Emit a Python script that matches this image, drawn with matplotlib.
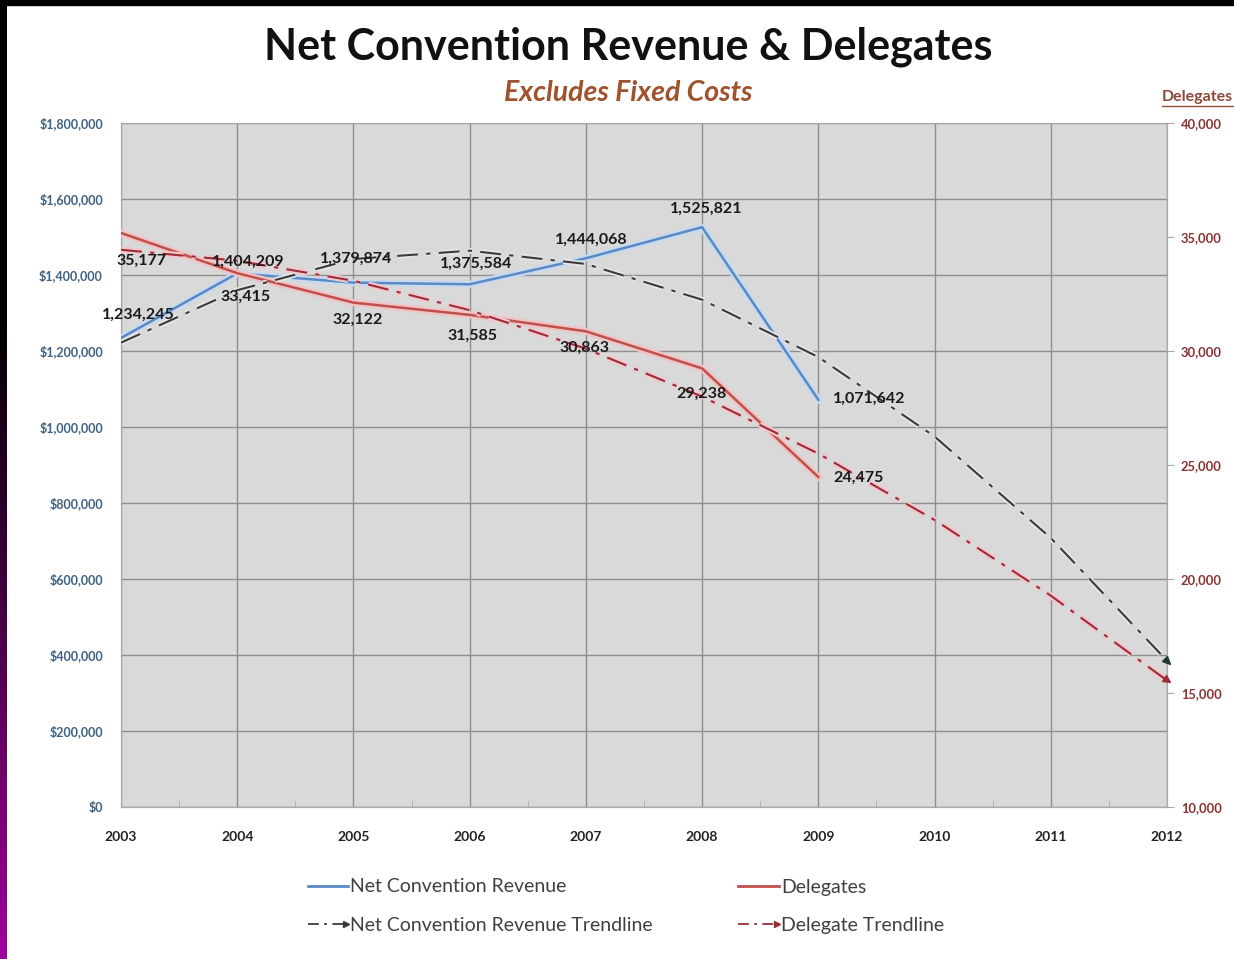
import matplotlib
matplotlib.use("Agg")
import matplotlib.pyplot as plt
import matplotlib.patheffects as pe
from matplotlib.lines import Line2D
from matplotlib.markers import MarkerStyle
from matplotlib.transforms import Affine2D
from matplotlib.legend_handler import HandlerLine2D
from matplotlib.colors import LinearSegmentedColormap
import numpy as np

# ---------------- data ----------------
years = [2003, 2004, 2005, 2006, 2007, 2008, 2009]
revenue = [1234245, 1404209, 1379874, 1375584, 1444068, 1525821, 1071642]
delegates = [35177, 33415, 32122, 31585, 30863, 29238, 24475]

trend_years = [2003, 2004, 2005, 2006, 2007, 2008, 2009, 2010, 2011, 2012]
revenue_trend = [1222000, 1360000, 1442000, 1464000, 1429000, 1335000, 1184000, 975000, 708000, 385000]
delegate_trend = [34440, 33960, 33080, 31790, 30100, 28000, 25500, 22590, 19270, 15550]

left_ticks = [0, 200000, 400000, 600000, 800000, 1000000, 1200000, 1400000, 1600000, 1800000]
right_ticks = [10000, 15000, 20000, 25000, 30000, 35000, 40000]
x_ticks = trend_years

# label offsets (pixels) for data labels
rev_offsets = [(17, 23), (11, 12), (3, 24), (6, 20), (5, 18), (4, 18), (51, 1)]
del_offsets = [(20, -28), (8, -24), (4, -17), (3, -21), (-1, -16), (-1, -25), (40, -1)]

# ---------------- style ----------------
FONT = ["Lato", "DejaVu Sans"]
plt.rcParams["font.family"] = FONT

BLUE = "#5A8AC6"
RED = "#C0504D"
TREND_GREY = "#3A3A3A"
TREND_RED = "#9B2D3A"
PLOT_BG = "#D9D9D9"
GRID = "#8E8E8E"

W, H = 1234, 959
fig = plt.figure(figsize=(W / 100, H / 100), dpi=100)
fig.patch.set_facecolor("white")

# plot area in pixels
L, R, T, B = 121, 1167, 123, 807
ax = fig.add_axes([L / W, 1 - B / H, (R - L) / W, (B - T) / H])
ax.set_facecolor(PLOT_BG)
ax.set_xlim(2003, 2012)
ax.set_ylim(0, 1800000)
ax2 = ax.twinx()
ax2.set_ylim(10000, 40000)

# grid
ax.set_xticks(x_ticks)
ax.set_yticks(left_ticks)
ax.grid(True, color=GRID, linewidth=1.0)
ax.set_axisbelow(True)
ax.set_xticks(np.arange(2003.5, 2012, 1.0), minor=True)
ax.tick_params(axis="x", which="minor", direction="in", length=4, color="#A8A8A8")

for sp in ["top", "right", "left", "bottom"]:
    ax.spines[sp].set_color("#A8A8A8")
    ax2.spines[sp].set_color("#A8A8A8")

ax.tick_params(axis="y", length=0, pad=13, labelsize=9.0, labelcolor="#3F6182")
ax.tick_params(axis="x", which="major", length=0, pad=17, labelsize=10, labelcolor="#222222")
ax.set_yticklabels([f"${v:,.0f}" for v in left_ticks], fontweight="bold")
ax.set_xticklabels([str(y) for y in x_ticks], fontweight="bold")

ax2.set_yticks(right_ticks)
ax2.set_yticklabels([f"{v:,.0f}" for v in right_ticks], fontweight="bold")
ax2.tick_params(axis="y", length=5, color="#A8A8A8", pad=5, labelsize=9.3, labelcolor="#8B3030")

# ---------------- lines ----------------
glow_b = [pe.Stroke(linewidth=5, foreground="#C9D9EE"), pe.Normal()]
glow_r = [pe.Stroke(linewidth=5, foreground="#F0C4C4"), pe.Normal()]
glow_tg = [pe.Stroke(linewidth=4, foreground="#E6E6E6"), pe.Normal()]
glow_tr = [pe.Stroke(linewidth=4.5, foreground="#F2C8CC"), pe.Normal()]

ax2.plot(years, revenue, color=BLUE, lw=1.8, path_effects=glow_b, zorder=3,
         transform=ax.transData)
ax2.plot(years, delegates, color=RED, lw=1.8, path_effects=glow_r, zorder=3)
ax2.plot(trend_years, revenue_trend, color=TREND_GREY, lw=1.5, dashes=(10, 4, 2, 4),
         path_effects=glow_tg, zorder=4, transform=ax.transData)
ax2.plot(trend_years, delegate_trend, color=TREND_RED, lw=1.5, dashes=(10, 4, 2, 4),
         path_effects=glow_tr, zorder=4)

# arrow heads at the end of the trend lines
fig.canvas.draw()
def end_arrow(a, xs, ys, color):
    p0 = a.transData.transform((xs[-2], ys[-2]))
    p1 = a.transData.transform((xs[-1], ys[-1]))
    ang = np.degrees(np.arctan2(p1[1] - p0[1], p1[0] - p0[0]))
    m = MarkerStyle(">", transform=Affine2D().rotate_deg(ang))
    ax2.plot([xs[-1]], [ys[-1]], marker=m, markersize=5.5, color=color, lw=0, zorder=6,
             clip_on=False, transform=a.transData)
end_arrow(ax, trend_years, revenue_trend, "#1F3B2A")
end_arrow(ax2, trend_years, delegate_trend, TREND_RED)

# ---------------- data labels (drawn on top of all lines) ----------------
for x, v, off in zip(years, revenue, rev_offsets):
    ax2.annotate(f"{v:,.0f}", (x, v), xycoords=ax.transData, xytext=off,
                 textcoords="offset pixels", ha="center", va="center", fontsize=11.5,
                 fontweight="bold", color="#1A1A1A", zorder=7)
for x, v, off in zip(years, delegates, del_offsets):
    ax2.annotate(f"{v:,.0f}", (x, v), xytext=off, textcoords="offset pixels",
                 ha="center", va="center", fontsize=11.5, fontweight="bold",
                 color="#1A1A1A", zorder=7)

# ---------------- titles ----------------
fig.text(628 / W, 1 - 47 / H, "Net Convention Revenue & Delegates", ha="center", va="center",
         fontsize=31, fontweight="bold", color="#111111")
fig.text(628 / W, 1 - 93 / H, "Excludes Fixed Costs", ha="center", va="center",
         fontsize=20.5, fontweight="bold", style="italic", color="#A0522D")
fig.text(1162 / W, 1 - 97 / H, "Delegates", ha="left", va="center",
         fontsize=11.5, fontweight="bold", color="#8B4A3A")
fig.add_artist(Line2D([1162 / W, 1.0], [1 - 106 / H, 1 - 106 / H], color="#8B4A3A",
                      lw=1.0, transform=fig.transFigure))

# ---------------- legend ----------------
class EndArrowHandler(HandlerLine2D):
    def create_artists(self, legend, orig_handle, xdescent, ydescent, width, height,
                       fontsize, trans):
        y = (height - ydescent) / 2.0 - ydescent / 2.0
        x0, x1 = -xdescent, width - xdescent
        line = Line2D([x0, x1 - 3], [y, y], color=orig_handle.get_color(), lw=1.3,
                      dashes=(6, 3, 1.5, 3))
        head = Line2D([x1 - 2], [y], marker=">", markersize=4.5, lw=0,
                      color=orig_handle.get_color())
        line.set_transform(trans)
        head.set_transform(trans)
        return [line, head]

h_rev = Line2D([], [], color=BLUE, lw=2)
h_del = Line2D([], [], color=RED, lw=2)
h_revt = Line2D([], [], color=TREND_GREY)
h_delt = Line2D([], [], color=TREND_RED)

leg = fig.legend([h_rev, h_revt, h_del, h_delt],
                 ["Net Convention Revenue", "Net Convention Revenue Trendline",
                  "Delegates", "Delegate Trendline"],
                 ncol=2, loc="upper left", bbox_to_anchor=(290 / W, 1 - 861 / H),
                 frameon=False, fontsize=14, handlelength=2.1, handletextpad=0.1,
                 columnspacing=4.4, labelspacing=1.12,
                 handler_map={h_revt: EndArrowHandler(), h_delt: EndArrowHandler()})
for t in leg.get_texts():
    t.set_color("#404040")

# ---------------- frame (black border, purple gradient strip) ----------------
bg = fig.add_axes([0, 0, 1, 1], zorder=-10)
bg.set_xlim(0, W)
bg.set_ylim(H, 0)
bg.axis("off")
bg.add_patch(plt.Rectangle((0, 0), W, 5, color="black"))
grad = np.linspace(0, 1, 400).reshape(-1, 1)
cmap = LinearSegmentedColormap.from_list("pk", ["#000000", "#000000", "#4A0048", "#A0009A"])
bg.imshow(grad, extent=(0, 7, H, 0), aspect="auto", cmap=cmap, zorder=1)
bg.set_xlim(0, W)
bg.set_ylim(H, 0)

fig.savefig("out.png", dpi=100)
